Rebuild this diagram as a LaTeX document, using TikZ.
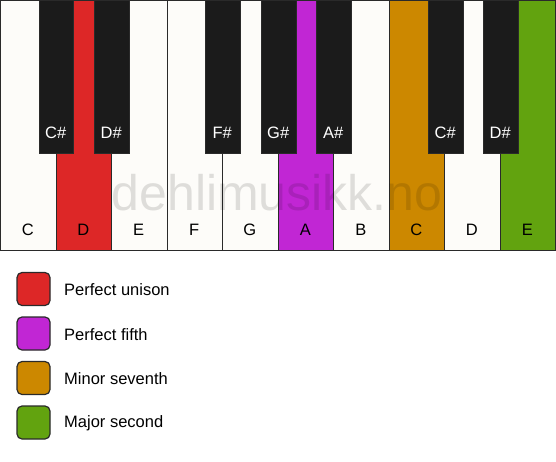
\documentclass[tikz,border=0pt]{standalone}
\usepackage{fontspec}
\setmainfont{Liberation Sans}
\usetikzlibrary{positioning}
\definecolor{ivory}{HTML}{FDFCF9}
\definecolor{ebony}{HTML}{1B1B1B}
\definecolor{edge}{HTML}{2A2A2A}
\definecolor{unison}{HTML}{DD2727}
\definecolor{fifth}{HTML}{C126D4}
\definecolor{seventh}{HTML}{CC8800}
\definecolor{second}{HTML}{62A30F}
\tikzset{
  whitekey/.style={draw=edge,line width=1.2pt,minimum width=55.5pt,minimum height=250pt,inner sep=0pt,anchor=north west},
  blackkey/.style={draw=edge,fill=ebony,line width=1pt,minimum width=34.5pt,minimum height=153pt,inner sep=0pt,anchor=north west},
  keyname/.style={font=\fontsize{16.5}{18}\selectfont,inner sep=0pt},
  swatch/.style={draw=edge,line width=1.2pt,rounded corners=5pt,minimum size=33pt,inner sep=0pt},
  legendtext/.style={font=\fontsize{16.5}{18}\selectfont,anchor=west,inner sep=0pt}
}
\begin{document}
\begin{tikzpicture}[x=1pt,y=-1pt]
 \useasboundingbox (0,0) rectangle (556,461);
 % white keys
 \foreach \i/\n/\c in {0/C/ivory,1/D/unison,2/E/ivory,3/F/ivory,4/G/ivory,5/A/fifth,6/B/ivory,7/C/seventh,8/D/ivory,9/E/second}{
  \node[whitekey,fill=\c] (w\i) at (\i*55.5,0) {};
  \node[keyname] (wn\i) at (\i*55.5+27.75,230) {\n};
 }
 % watermark
 \node[font=\fontsize{50}{52}\selectfont,text=black,opacity=0.12,inner sep=0pt] (mark) at (277,193) {dehlimusikk.no};
 % black keys
 \foreach \i/\x/\n in {0/38.5/C\#,1/94/D\#,2/205/F\#,3/261/G\#,4/316/A\#,5/428/C\#,6/483/D\#}{
  \node[blackkey] (b\i) at (\x,0) {};
  \node[keyname,text=white] (bn\i) at (\x+17.25,133) {\n};
 }
 % legend
 \foreach \j/\c/\t in {0/unison/Perfect unison,1/fifth/Perfect fifth,2/seventh/Minor seventh,3/second/Major second}{
  \node[swatch,fill=\c] (s\j) at (33.5,289+\j*44.5) {};
  \node[legendtext] (t\j) at (64,290+\j*44.5) {\t};
 }
\end{tikzpicture}
\end{document}
